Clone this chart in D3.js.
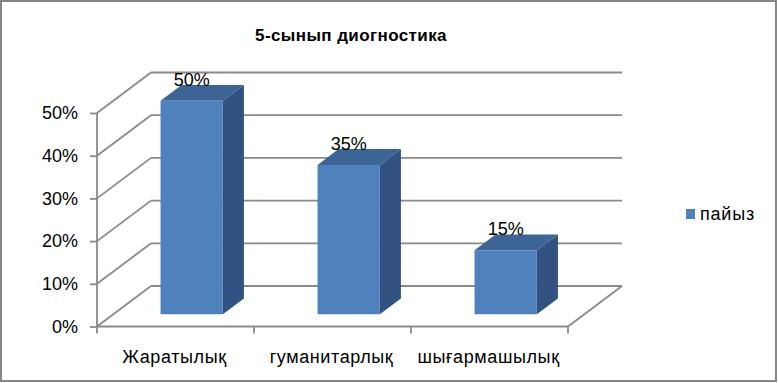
<!DOCTYPE html>
<html>
<head>
<meta charset="utf-8">
<script src="https://cdn.jsdelivr.net/npm/d3@7"></script>
<style>
  html, body { margin: 0; padding: 0; background: #fff; }
  svg { display: block; }
  text { font-family: "Liberation Sans", Arial, sans-serif; fill: #000; }
</style>
</head>
<body>
<svg id="chart" width="778" height="383"></svg>
<script>
// ---- data ----
const title = "5-сынып диогностика";
const categories = ["Жаратылық", "гуманитарлық", "шығармашылық"];
const values = [0.50, 0.35, 0.15];
const seriesName = "пайыз";
const yTicks = [0, 0.1, 0.2, 0.3, 0.4, 0.5];

// ---- layout ----
const W = 778, H = 383;
const X0 = 97, X1 = 568;          // front plane x extent
const YB = 326.5, YT = 113;       // front plane y for 0 and 50%
const DX = 54, DY = -40.5;        // depth projection of the floor
const barD0 = 0.30, barD1 = 0.69; // bar depth range (fraction of floor depth)
const barFrac = 0.397;

const gridColor = "#8a8a8a";
const cFront = "#4f81bd", cTop = "#3c6494", cSide = "#325381";

const svg = d3.select("#chart");

svg.append("rect").attr("x", 1).attr("y", 1).attr("width", W - 3).attr("height", H - 3)
  .attr("fill", "#fff").attr("stroke", "#868686").attr("stroke-width", 2);

const x = d3.scaleBand().domain(categories).range([X0, X1]).padding(0);
const y = d3.scaleLinear().domain([0, 0.5]).range([YB, YT]);

const P = (px, py, d) => [px + d * DX, py + d * DY];

const g = svg.append("g");

// side-wall gridlines and back-wall gridlines
yTicks.forEach(t => {
  const a = P(X0, y(t), 0), b = P(X0, y(t), 1), c = P(X1, y(t), 1);
  g.append("line").attr("x1", a[0]).attr("y1", a[1]).attr("x2", b[0]).attr("y2", b[1])
    .attr("stroke", gridColor).attr("stroke-width", 1.8);
  g.append("line").attr("x1", b[0]).attr("y1", b[1]).attr("x2", c[0]).attr("y2", c[1])
    .attr("stroke", gridColor).attr("stroke-width", 1.8);
});
// floor right edge
{
  const a = P(X1, y(0), 0), b = P(X1, y(0), 1);
  g.append("line").attr("x1", a[0]).attr("y1", a[1]).attr("x2", b[0]).attr("y2", b[1])
    .attr("stroke", gridColor).attr("stroke-width", 1.8);
}

// front y axis
const yAxis = d3.axisLeft(y).tickValues(yTicks).tickFormat(d3.format(".0%")).tickSize(7).tickPadding(12);
const ya = g.append("g").attr("transform", `translate(${X0},0)`).call(yAxis);
ya.select(".domain").attr("stroke", gridColor).attr("stroke-width", 1.8).attr("d", `M0,${YT}V${YB}`);
ya.selectAll(".tick line").attr("stroke", gridColor).attr("stroke-width", 1.8);
ya.selectAll(".tick text").attr("font-size", 18).attr("font-family", "Liberation Sans, Arial, sans-serif").attr("fill", "#000");

// front x axis
const edges = categories.map(c => x(c)).concat([X1]);
g.append("line").attr("x1", X0).attr("y1", YB).attr("x2", X1).attr("y2", YB)
  .attr("stroke", gridColor).attr("stroke-width", 1.8);
edges.forEach(e => {
  g.append("line").attr("x1", e).attr("y1", YB).attr("x2", e).attr("y2", YB + 7)
    .attr("stroke", gridColor).attr("stroke-width", 1.8);
});
g.selectAll(".xlab").data(categories).join("text").attr("class", "xlab")
  .attr("x", d => x(d) + x.bandwidth() / 2 - 1).attr("y", 363)
  .attr("text-anchor", "middle").attr("font-size", 18).attr("letter-spacing", 0.6).text(d => d);

// bars
const bw = x.bandwidth() * barFrac;
categories.forEach((c, i) => {
  const v = values[i];
  const l = x(c) + (x.bandwidth() - bw) / 2, r = l + bw;
  const fTL = P(l, y(v), barD0), fTR = P(r, y(v), barD0), fBR = P(r, y(0), barD0), fBL = P(l, y(0), barD0);
  const bTL = P(l, y(v), barD1), bTR = P(r, y(v), barD1), bBR = P(r, y(0), barD1);
  g.append("polygon").attr("points", [fTR, bTR, bBR, fBR].map(p => p.join(",")).join(" ")).attr("fill", cSide);
  g.append("polygon").attr("points", [fTL, bTL, bTR, fTR].map(p => p.join(",")).join(" ")).attr("fill", cTop);
  g.append("polygon").attr("points", [fTL, fTR, fBR, fBL].map(p => p.join(",")).join(" ")).attr("fill", cFront);
  g.append("text").attr("x", (fTL[0] + fTR[0]) / 2).attr("y", bTL[1] + 0.5)
    .attr("text-anchor", "middle").attr("font-size", 18).text(d3.format(".0%")(v));
});

// title
svg.append("text").attr("x", 351).attr("y", 41).attr("text-anchor", "middle")
  .attr("font-size", 17).attr("letter-spacing", 0.4).attr("font-weight", "bold").text(title);

// legend
svg.append("rect").attr("x", 686).attr("y", 209).attr("width", 9).attr("height", 10).attr("fill", cFront);
svg.append("text").attr("x", 700).attr("y", 219.5).attr("font-size", 18).attr("letter-spacing", 0.8).text(seriesName);
</script>
</body>
</html>
